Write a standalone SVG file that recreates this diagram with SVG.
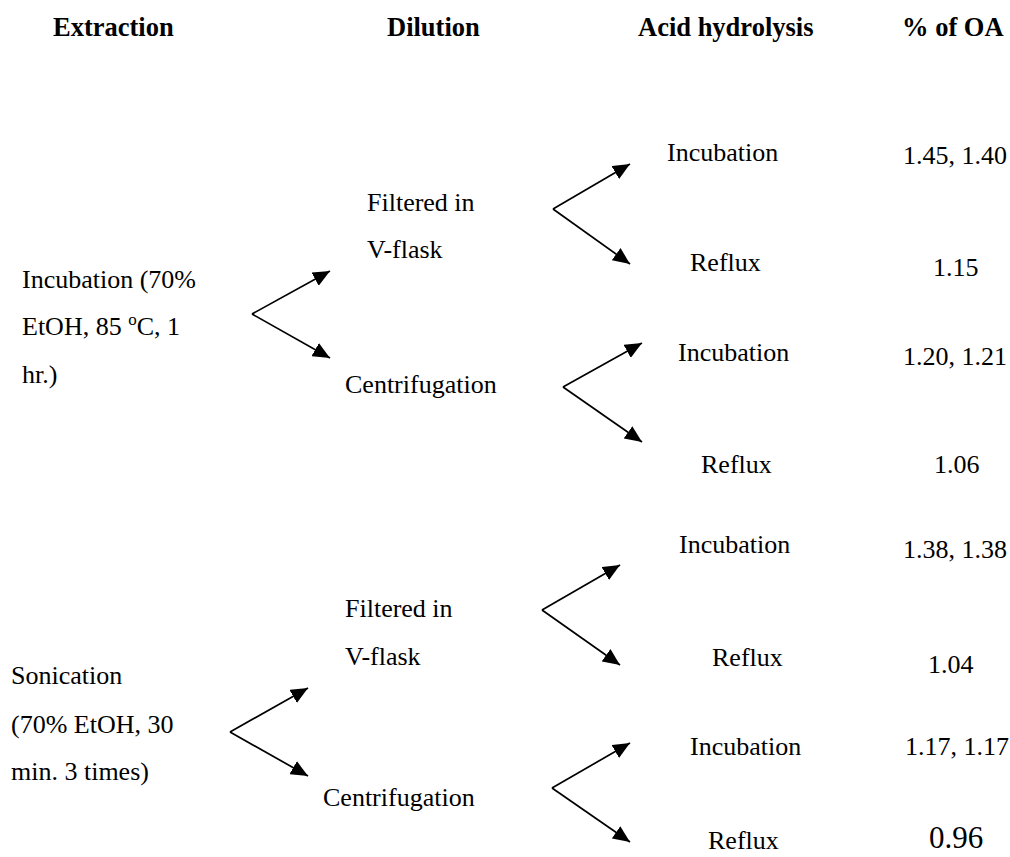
<svg xmlns="http://www.w3.org/2000/svg" width="1010" height="857" viewBox="0 0 1010 857">
<style>
text{font-family:"Liberation Serif","Times New Roman",serif;fill:#000}
.h{font-size:26.5px;font-weight:bold}
.t{font-size:26px}
.big{font-size:31px}
.arm{stroke:#000;stroke-width:1.7;fill:none;marker-end:url(#ah)}
</style>
<defs>
<marker id="ah" markerUnits="userSpaceOnUse" markerWidth="18" markerHeight="15" refX="17" refY="7.5" orient="auto" viewBox="0 0 18 15">
<path d="M0,0 L17,7.5 L0,15 Z" fill="#000"/>
</marker>
</defs>
<rect width="1010" height="857" fill="#fff"/>
<g id="headers">
<text class="h" x="53" y="36">Extraction</text>
<text class="h" x="387" y="36">Dilution</text>
<text class="h" x="638" y="36">Acid hydrolysis</text>
<text class="h" x="902" y="36">% of OA</text>
</g>
<g id="extraction-incubation">
<text class="t" x="22" y="288">Incubation (70%</text>
<text class="t" x="22" y="335">EtOH, 85 <tspan font-size="17" dy="-10">o</tspan><tspan dy="10">C, 1</tspan></text>
<text class="t" x="22" y="383">hr.)</text>
</g>
<g id="extraction-sonication">
<text class="t" x="11" y="684">Sonication</text>
<text class="t" x="11" y="733">(70% EtOH, 30</text>
<text class="t" x="11" y="780">min. 3 times)</text>
</g>
<g id="dilution-filtered-1">
<text class="t" x="367" y="211">Filtered in</text>
<text class="t" x="367" y="258">V-flask</text>
</g>
<g id="dilution-centrifugation-1">
<text class="t" x="345" y="393">Centrifugation</text>
</g>
<g id="dilution-filtered-2">
<text class="t" x="345" y="617">Filtered in</text>
<text class="t" x="345" y="665">V-flask</text>
</g>
<g id="dilution-centrifugation-2">
<text class="t" x="323" y="806">Centrifugation</text>
</g>
<g id="acid-1">
<text class="t" x="667" y="161">Incubation</text>
<text class="t" x="690" y="271">Reflux</text>
</g>
<g id="acid-2">
<text class="t" x="678" y="361">Incubation</text>
<text class="t" x="701" y="473">Reflux</text>
</g>
<g id="acid-3">
<text class="t" x="679" y="553">Incubation</text>
<text class="t" x="712" y="666">Reflux</text>
</g>
<g id="acid-4">
<text class="t" x="690" y="755">Incubation</text>
<text class="t" x="708" y="849">Reflux</text>
</g>
<g id="values">
<text class="t" x="903" y="164">1.45, 1.40</text>
<text class="t" x="933" y="276">1.15</text>
<text class="t" x="903" y="365">1.20, 1.21</text>
<text class="t" x="934" y="473">1.06</text>
<text class="t" x="903" y="558">1.38, 1.38</text>
<text class="t" x="928" y="673">1.04</text>
<text class="t" x="905" y="755">1.17, 1.17</text>
<text class="big" x="929" y="848">0.96</text>
</g>
<g id="connectors">
<line class="arm" x1="252" y1="314" x2="330" y2="271"/>
<line class="arm" x1="252" y1="314" x2="330" y2="358"/>
<line class="arm" x1="230" y1="732" x2="308" y2="688"/>
<line class="arm" x1="230" y1="732" x2="308" y2="776"/>
<line class="arm" x1="553" y1="209" x2="630" y2="164"/>
<line class="arm" x1="553" y1="209" x2="630" y2="264"/>
<line class="arm" x1="563" y1="387" x2="642" y2="343"/>
<line class="arm" x1="563" y1="387" x2="642" y2="442"/>
<line class="arm" x1="542" y1="610" x2="620" y2="565"/>
<line class="arm" x1="542" y1="610" x2="620" y2="665"/>
<line class="arm" x1="552" y1="788" x2="630" y2="743"/>
<line class="arm" x1="552" y1="788" x2="630" y2="842"/>
</g>
</svg>
